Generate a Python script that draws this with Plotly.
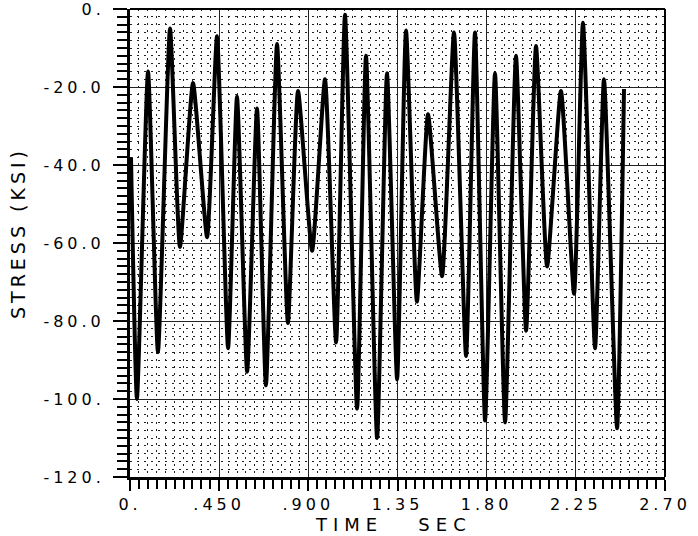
import plotly.graph_objects as go

# Stress time history: turning points (time in seconds, stress in ksi)
time_sec = [0.005, 0.035, 0.091, 0.141, 0.202, 0.252, 0.318, 0.389, 0.439, 0.495,
            0.540, 0.591, 0.641, 0.686, 0.742, 0.797, 0.848, 0.919, 0.984, 1.040,
            1.085, 1.146, 1.191, 1.247, 1.297, 1.348, 1.393, 1.448, 1.504, 1.575,
            1.635, 1.696, 1.741, 1.792, 1.842, 1.893, 1.948, 1.999, 2.049, 2.105,
            2.175, 2.241, 2.286, 2.347, 2.392, 2.458, 2.493]
stress_ksi = [-38, -100, -16, -88, -5, -61, -19, -58.5, -7, -87,
              -22.5, -93, -25.5, -96.5, -9, -80.5, -21, -62, -18, -85.5,
              -1.5, -102.5, -12, -110, -16.5, -95, -5.5, -75, -27, -68.5,
              -6, -89, -6, -105.5, -16.5, -106, -12, -82.5, -9.5, -66,
              -21, -73, -3.5, -87, -18, -107.5, -20.5]

x_tickvals = [0, 0.45, 0.90, 1.35, 1.80, 2.25, 2.70]
x_ticktext = ["0.", ".450", ".900", "1.35", "1.80", "2.25", "2.70"]
y_tickvals = [-120, -100, -80, -60, -40, -20, 0]
y_ticktext = ["-120.", "-100.", "-80.0", "-60.0", "-40.0", "-20.0", "0."]


def spaced(s, px):
    return f'<span style="letter-spacing:{px}px">{s}</span>'


fig = go.Figure()
fig.add_trace(go.Scatter(
    x=time_sec, y=stress_ksi, mode="lines",
    line=dict(color="black", width=4, shape="spline", smoothing=0.5),
    showlegend=False, hoverinfo="skip",
))

tick_font = dict(family="DejaVu Sans", size=16, color="black")
title_font = dict(family="DejaVu Sans", size=18, color="black")

fig.update_xaxes(
    range=[0, 2.7], tickvals=x_tickvals,
    ticktext=[spaced(t, 4) for t in x_ticktext],
    tickfont=tick_font, ticks="outside", ticklen=11, tickwidth=2, tickcolor="black",
    ticklabelstandoff=0, ticklabeloverflow="allow",
    showline=True, linecolor="black", linewidth=3, mirror=False,
    showgrid=True, gridcolor="#222", gridwidth=1.2,
    minor=dict(dtick=0.045, tick0=0, ticks="outside", ticklen=9, tickwidth=2,
               tickcolor="black", showgrid=True, gridcolor="#222",
               gridwidth=1, griddash="2px,5px"),
    zeroline=False,
)
fig.update_yaxes(
    range=[-120, 0], tickvals=y_tickvals,
    ticktext=[spaced(t, 4) for t in y_ticktext],
    tickfont=tick_font, ticks="outside", ticklen=14, tickwidth=2, tickcolor="black",
    ticklabelstandoff=5, ticklabeloverflow="allow",
    showline=True, linecolor="black", linewidth=3, mirror=False,
    showgrid=True, gridcolor="#222", gridwidth=1.2,
    minor=dict(dtick=2, tick0=0, ticks="outside", ticklen=10, tickwidth=2,
               tickcolor="black", showgrid=True, gridcolor="#222",
               gridwidth=1, griddash="2px,5px"),
    zeroline=False,
)

# axis titles
fig.add_annotation(text=spaced("TIME   SEC", 6), xref="paper", yref="paper",
                   x=(393 - 130) / 535, y=-(524 - 477) / 468,
                   showarrow=False, font=title_font, xanchor="center", yanchor="middle")
fig.add_annotation(text=spaced("STRESS (KSI)", 4), xref="paper", yref="paper",
                   x=-(130 - 18) / 535, y=(477 - 233) / 468, textangle=-90,
                   showarrow=False, font=dict(family="DejaVu Sans", size=19, color="black"),
                   xanchor="center", yanchor="middle")

# thinner top and right frame edges
fig.add_shape(type="line", xref="paper", yref="paper", x0=0, x1=1, y0=1, y1=1,
              line=dict(color="black", width=2))
fig.add_shape(type="line", xref="paper", yref="paper", x0=1, x1=1, y0=0, y1=1,
              line=dict(color="black", width=2))

fig.update_layout(
    width=698, height=536,
    margin=dict(l=130, r=33, t=9, b=59, autoexpand=False),
    plot_bgcolor="white", paper_bgcolor="white",
)

fig.write_html("out.html")
